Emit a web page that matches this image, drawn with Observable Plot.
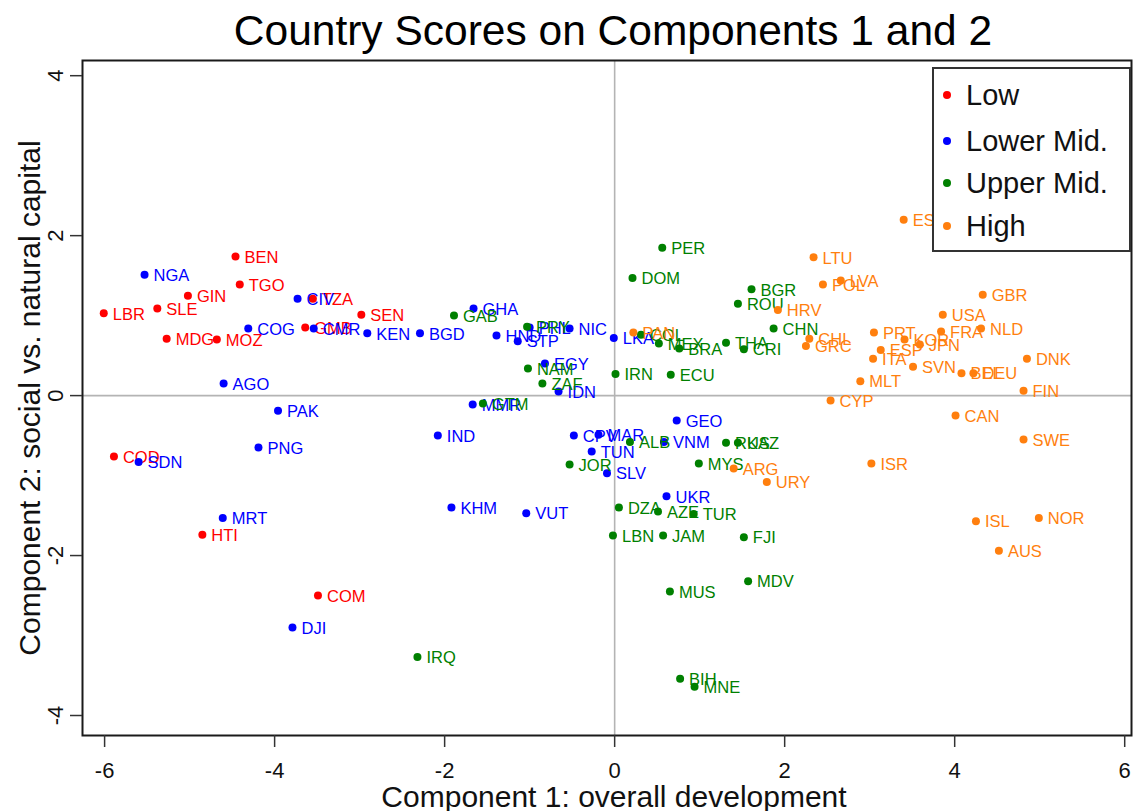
<!DOCTYPE html>
<html>
<head>
<meta charset="utf-8">
<script src="https://cdn.jsdelivr.net/npm/d3@7"></script>
<script src="https://cdn.jsdelivr.net/npm/@observablehq/plot@0.6"></script>
<style>
  html, body { margin: 0; padding: 0; background: #fff; }
  #wrap { position: relative; width: 1134px; height: 811px; font-family: "Liberation Sans", Arial, sans-serif; }
  #title { height: 56px; line-height: 62px; font-size: 42.5px; text-align: center; padding-left: 92px; box-sizing: border-box; width: 1134px; color: #000; white-space: nowrap; }
  #legend { position: absolute; left: 932px; top: 67px; width: 195px; height: 181px; border: 2px solid #333; background: #fff; box-sizing: content-box; }
  .item { position: absolute; left: 0; height: 40px; line-height: 40px; font-size: 29px; color: #111; white-space: nowrap; }
  .item span.dot { position: absolute; left: 9px; top: 16px; width: 8px; height: 8px; border-radius: 50%; }
  .item span.lab { position: absolute; left: 32px; }
</style>
</head>
<body>
<div id="wrap">
  <div id="title">Country Scores on Components 1 and 2</div>
  <div id="chart"></div>
  <div id="legend"></div>
</div>
<script>
// ---- data ----
const groups = ["Low", "Lower Mid.", "Upper Mid.", "High"];
const groupColors = ["#ff0000", "#0000ff", "#008000", "#ff7f0e"];

const lowCodes = ["LBR","SLE","GIN","BEN","TGO","MDG","MOZ","TZA","GMB","SEN","COD","HTI","COM"];
const lowX = [-6.01,-5.38,-5.02,-4.46,-4.41,-5.27,-4.68,-3.55,-3.64,-2.98,-5.89,-4.85,-3.49];
const lowY = [1.03,1.09,1.25,1.74,1.39,0.71,0.70,1.21,0.85,1.01,-0.76,-1.74,-2.50];

const lowerMidCodes = ["NGA","COG","CIV","CMR","KEN","BGD","GHA","HND","STP","PHL","NIC","LKA","EGY","IDN","AGO","PAK","PNG","SDN","MRT","DJI","IND","MMR","KHM","VUT","CPV","MAR","TUN","SLV","GEO","VNM","UKR"];
const lowerMidX = [-5.53,-4.31,-3.73,-3.54,-2.91,-2.29,-1.66,-1.39,-1.14,-1.00,-0.53,-0.01,-0.82,-0.66,-4.60,-3.96,-4.19,-5.60,-4.61,-3.79,-2.08,-1.67,-1.92,-1.04,-0.48,-0.19,-0.27,-0.09,0.73,0.58,0.61];
const lowerMidY = [1.51,0.84,1.21,0.84,0.78,0.78,1.09,0.75,0.68,0.85,0.84,0.72,0.40,0.05,0.15,-0.19,-0.65,-0.83,-1.53,-2.90,-0.50,-0.11,-1.40,-1.47,-0.50,-0.49,-0.70,-0.97,-0.31,-0.58,-1.26];

const upperMidCodes = ["GAB","PRY","NAM","ZAF","GTM","IRN","PER","DOM","COL","MEX","BRA","THA","CRI","BGR","ROU","CHN","ECU","ALB","RUS","KAZ","MYS","JOR","DZA","AZE","TUR","LBN","JAM","FJI","MDV","MUS","IRQ","BIH","MNE"];
const upperMidX = [-1.89,-1.03,-1.02,-0.85,-1.55,0.01,0.56,0.21,0.31,0.52,0.76,1.31,1.52,1.61,1.45,1.87,0.66,0.18,1.31,1.45,0.99,-0.53,0.05,0.51,0.93,-0.02,0.57,1.52,1.57,0.65,-2.32,0.77,0.94];
const upperMidY = [1.00,0.86,0.34,0.15,-0.10,0.27,1.85,1.47,0.76,0.65,0.59,0.66,0.58,1.33,1.15,0.84,0.26,-0.58,-0.59,-0.59,-0.85,-0.86,-1.40,-1.45,-1.48,-1.75,-1.75,-1.77,-2.32,-2.45,-3.27,-3.54,-3.64];

const highCodes = ["PAN","ARG","URY","EST","LTU","POL","LVA","HRV","CHL","GRC","PRT","KOR","JPN","ESP","ITA","SVN","MLT","CYP","USA","FRA","NLD","GBR","DNK","BEL","DEU","FIN","CAN","SWE","ISR","ISL","NOR","AUS"];
const highX = [0.22,1.40,1.79,3.40,2.34,2.45,2.66,1.92,2.29,2.25,3.05,3.41,3.59,3.13,3.04,3.51,2.89,2.54,3.86,3.84,4.31,4.33,4.85,4.08,4.22,4.81,4.01,4.81,3.02,4.25,4.99,4.52];
const highY = [0.79,-0.91,-1.08,2.20,1.73,1.39,1.44,1.07,0.71,0.62,0.79,0.70,0.64,0.57,0.46,0.36,0.18,-0.06,1.01,0.80,0.84,1.26,0.46,0.28,0.28,0.06,-0.25,-0.55,-0.85,-1.57,-1.53,-1.94];

const xTicks = [-6, -4, -2, 0, 2, 4, 6];
const yTicks = [-4, -2, 0, 2, 4];
const xTitle = "Component 1: overall development";
const yTitle = "Component 2: social vs. natural capital";

// ---- build table ----
const seriesList = [
  [lowCodes, lowX, lowY],
  [lowerMidCodes, lowerMidX, lowerMidY],
  [upperMidCodes, upperMidX, upperMidY],
  [highCodes, highX, highY]
];
const tables = seriesList.map(([c, xs, ys], gi) =>
  c.map((code, i) => ({code, x: xs[i], y: ys[i], group: groups[gi]})));

const pointMarks = tables.flatMap(t => [
  Plot.dot(t, {x: "x", y: "y", fill: "group", r: 4, stroke: "none"}),
  Plot.text(t, {x: "x", y: "y", text: "code", fill: "group", dx: 9, dy: 1, textAnchor: "start", fontSize: 16.5})
]);

const chart = Plot.plot({
  width: 1134,
  height: 755,
  marginTop: 4,
  marginBottom: 76,
  marginLeft: 82,
  marginRight: 3,
  style: {fontFamily: "'Liberation Sans', Arial, sans-serif", background: "#fff", overflow: "visible"},
  x: {domain: [-6.26, 6.08]},
  y: {domain: [-4.25, 4.19]},
  color: {domain: groups, range: groupColors},
  marks: [
    Plot.ruleX([0], {stroke: "#b4b4b4", strokeWidth: 1.6}),
    Plot.ruleY([0], {stroke: "#b4b4b4", strokeWidth: 1.6}),
    ...pointMarks,
    Plot.frame({stroke: "#1a1a1a", strokeWidth: 2}),
    Plot.axisX({ticks: xTicks, tickSize: 12, tickPadding: 15, fontSize: 22, tickFormat: d => String(d), label: null, stroke: "#333", strokeWidth: 1.5, fill: "#111"}),
    Plot.axisY({ticks: yTicks, tickSize: 12, tickFormat: () => "", label: null, stroke: "#333", strokeWidth: 1.5}),
    Plot.text(yTicks, {y: d => d, text: d => String(d), frameAnchor: "left", textAnchor: "middle", dx: -27, rotate: -90, fontSize: 22, fill: "#111"}),
    Plot.text([xTitle], {frameAnchor: "bottom", textAnchor: "middle", dx: 7, dy: 71, fontSize: 30, fill: "#111"}),
    Plot.text([yTitle], {frameAnchor: "left", textAnchor: "middle", dx: -52, rotate: -90, fontSize: 30, fill: "#111"})
  ]
});
document.getElementById("chart").appendChild(chart);

// ---- legend ----
const legend = document.getElementById("legend");
const itemTops = [6, 52, 94, 137];
groups.forEach((g, i) => {
  const it = document.createElement("div");
  it.className = "item";
  it.style.top = itemTops[i] + "px";
  const d = document.createElement("span");
  d.className = "dot";
  d.style.background = groupColors[i];
  const l = document.createElement("span");
  l.className = "lab";
  l.textContent = g;
  it.appendChild(d); it.appendChild(l);
  legend.appendChild(it);
});
</script>
</body>
</html>
